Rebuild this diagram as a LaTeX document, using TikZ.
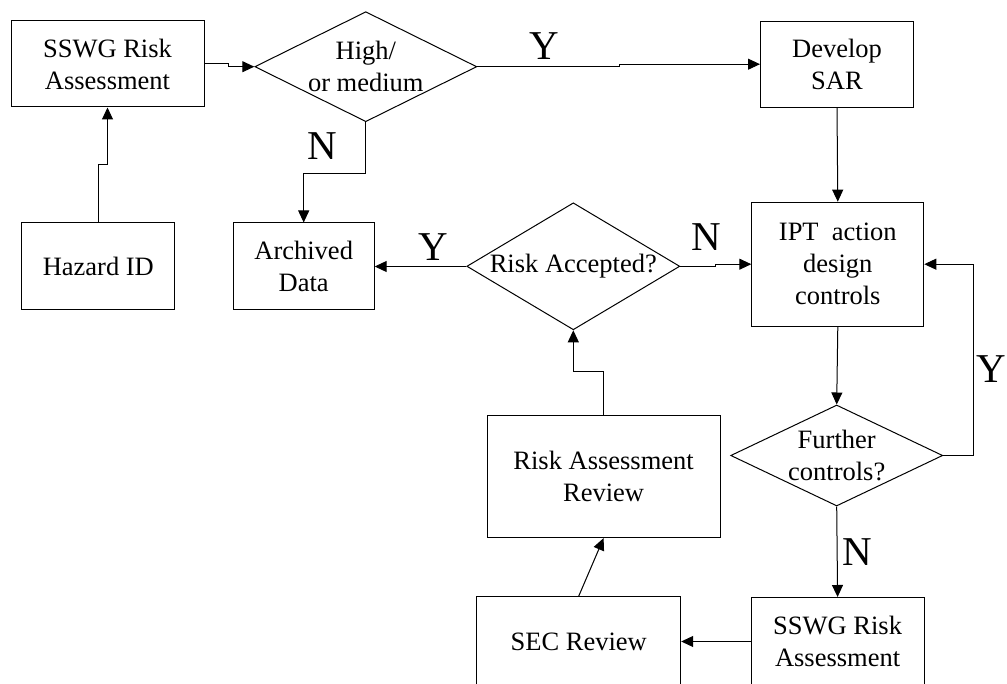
\documentclass[tikz,border=0pt]{standalone}
\usepackage{fontspec}
\setmainfont{Liberation Serif}
\usepackage{tikz}
\usetikzlibrary{shapes.geometric, arrows.meta}
\tikzstyle{canvas} = [x = 1pt, y = -1pt]
\newcommand{\boxFont}{\fontsize{26.5}{32}\selectfont}
\tikzstyle{stepBox} = [draw, line width = 1pt, align = center, inner sep = 0pt, font = \boxFont]
\tikzstyle{decisionStyle} = [draw, diamond, line width = 1pt, align = center, inner sep = -4pt, font = \boxFont]
\tikzstyle{flowLine} = [line width = 1pt, -{Triangle[length = 12pt, width = 11pt]}]
\tikzstyle{answerText} = [font = \fontsize{41}{44}\selectfont, inner sep = 0pt]
\newcommand{\stepNode}[5]{\node [stepBox, minimum width = #3, minimum height = #4] (#1) at (#2) {#5};}
\newcommand{\decisionNode}[6]{\node [decisionStyle, minimum width = #3, minimum height = #4, shape aspect = #5] (#1) at (#2) {#6};}
\newcommand{\answerLabel}[3]{\node [answerText] (#1) at (#2) {#3};}

\begin{document}
\begin{tikzpicture}[canvas]
  \useasboundingbox (0,0) rectangle (1007,684);
  \stepNode{assessTop}{107.5,64}{193}{86}{SSWG Risk\\Assessment}
  \stepNode{hazard}{98.3,266.5}{153}{87}{Hazard ID}
  \stepNode{archive}{303.7,266.5}{141}{87}{Archived\\Data}
  \stepNode{develop}{837,64.2}{153}{86}{Develop\\SAR}
  \stepNode{ipt}{837.8,264.2}{172}{124}{IPT\ \ action\\design\\controls}
  \stepNode{riskReview}{603.6,476.6}{233}{122}{Risk Assessment\\Review}
  \stepNode{secReview}{578.7,641.7}{204}{90}{SEC Review}
  \stepNode{assessBottom}{837.6,641.5}{173}{88}{SSWG Risk\\Assessment}
  \decisionNode{rankCheck}{365.8,66.7}{222}{110}{2}{High/\\or medium}
  \decisionNode{riskCheck}{573.3,266.3}{213}{127}{1.7}{Risk Accepted?}
  \decisionNode{furtherCheck}{836.7,455.5}{212}{101}{2.1}{Further\\controls?}

  \draw [flowLine] (hazard.north) -- ++(0,-58) -| (assessTop.south);
  \draw [flowLine] (assessTop.east) -- ++(24,0) |- (rankCheck.west);
  \draw [flowLine] (rankCheck.south) -- ++(0,51) -| (archive.north);
  \draw [flowLine] (rankCheck.east) -- ++(142.6,0) |- (develop.west);
  \draw [flowLine] (develop.south) -- (ipt.north);
  \draw [flowLine] (riskCheck.west) -- ++(-46.7,0) |- (archive.east);
  \draw [flowLine] (riskCheck.east) -- ++(35,0) |- (ipt.west);
  \draw [flowLine] (ipt.south) -- (furtherCheck.north);
  \draw [flowLine] (furtherCheck.south) -- (assessBottom.north);
  \draw [flowLine] (assessBottom.west) -- (assessBottom.west -| secReview.east);
  \draw [flowLine] (secReview.north) -- (riskReview.south);
  \draw [flowLine] (riskReview.north) -- ++(0,-43.2) -| (riskCheck.south);
  \draw [flowLine] (furtherCheck.east) -- ++(30.3,0) |- (ipt.east);

  \answerLabel{noArchive}{322,146}{N}
  \answerLabel{yesDevelop}{544.5,46}{Y}
  \answerLabel{yesArchive}{433.3,247.5}{Y}
  \answerLabel{noAccept}{706,237}{N}
  \answerLabel{noFurther}{857,552}{N}
  \answerLabel{yesFurther}{991,369}{Y}
\end{tikzpicture}
\end{document}
